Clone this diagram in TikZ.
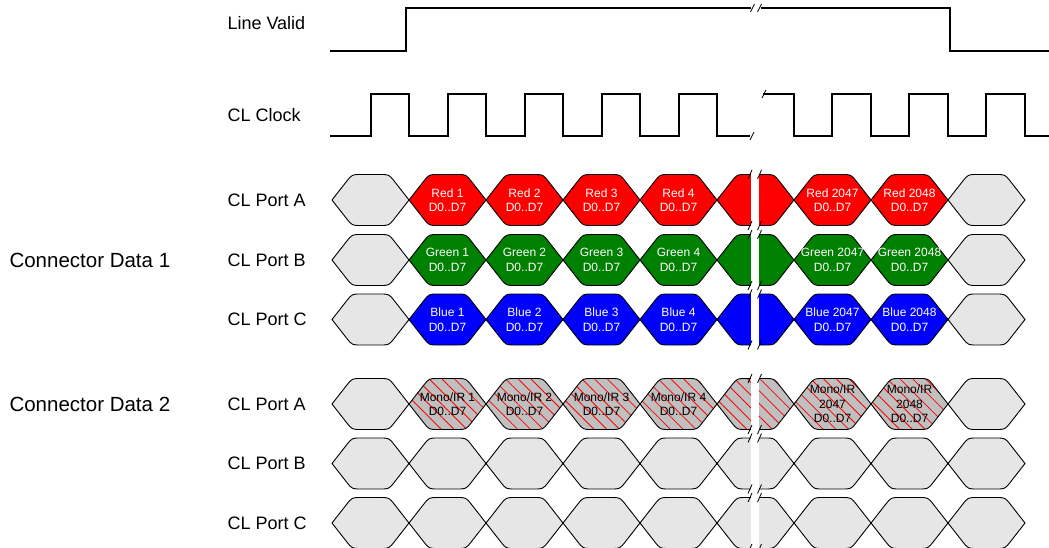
\documentclass[tikz,border=0pt]{standalone}
\usepackage{fontspec}
\setmainfont{Liberation Sans}
\usetikzlibrary{patterns.meta}
\definecolor{cellgrey}{HTML}{E6E6E6}
\definecolor{hatchgrey}{HTML}{C0C0C0}
\definecolor{dgreen}{HTML}{008000}
\newcommand{\hexpath}{(0,0) -- (14.4,-18.4) .. controls (20,-25.5) .. (29,-25.5) -- (48,-25.5) .. controls (57,-25.5) .. (62.6,-18.4) -- (77,0) -- (62.6,18.4) .. controls (57,25.5) .. (48,25.5) -- (29,25.5) .. controls (20,25.5) .. (14.4,18.4) -- cycle}
\begin{document}
\begin{tikzpicture}[x=1pt,y=-1pt,
	signal/.style={line width=1.4pt},
	cell/.style={draw=black,line width=0.9pt,fill=cellgrey},
	hatch/.style={draw=black,line width=0.9pt,preaction={fill=hatchgrey},pattern={Lines[angle=-45,distance=9pt,line width=0.8pt]},pattern color=red},
	brk/.style={line width=0.8pt},
	sig/.style={anchor=west,font=\fontsize{18}{21}\selectfont},
	grp/.style={anchor=west,font=\fontsize{20.5}{24}\selectfont},
	celltext/.style={align=center,font=\fontsize{12}{14.5}\selectfont}]
	\useasboundingbox (0,0) rectangle (1049,548);
	\node[sig] (lv) at (224,23) {Line Valid};
	\node[sig] (clk) at (224,115) {CL Clock};
	\node[grp] (cd1) at (6,260) {Connector Data 1};
	\node[grp] (cd2) at (6,404) {Connector Data 2};
	\foreach \y/\p/\k in {200/A/a1,260/B/b1,319.5/C/c1,404/A/a2,463.5/B/b2,523/C/c2}
		\node[sig] (port-\k) at (224,\y) {CL Port \p};
	\draw[signal] (330,51) -- (406,51) -- (406,8) -- (751,8);
	\draw[signal] (761,8) -- (950,8) -- (950,51) -- (1049,51);
	\draw[brk] (750.5,12) -- (754.5,4);
	\draw[brk] (757.5,12) -- (761.5,4);
	\draw[signal] (330,136) \foreach \f in {409,486,563,640,717} { -- (\f-38,136) -- (\f-38,94) -- (\f,94) -- (\f,136) } -- (750,136);
	\draw[signal] (763,94) -- (794,94) -- (794,136) \foreach \f in {871,948,1025} { -- (\f-39,136) -- (\f-39,94) -- (\f,94) -- (\f,136) } -- (1049,136);
	\draw[brk] (750,140) -- (754,132);
	\draw[brk] (762,98) -- (766,90);
	\foreach \y/\fc/\lbl in {200/red/Red,260/dgreen/Green,319.5/blue/Blue} {
		\draw[cell,shift={(332,\y)}] \hexpath;
		\foreach \n in {1,2,3,4} {
			\draw[cell,fill=\fc,shift={(332+77*\n,\y)}] \hexpath;
			\node[celltext,text=white] (\lbl-\n) at (370.5+77*\n,\y) {\lbl\ \n\\D0..D7};
		}
		\draw[cell,fill=\fc,shift={(717,\y)}] \hexpath;
		\foreach \n/\x in {2047/794,2048/871} {
			\draw[cell,fill=\fc,shift={(\x,\y)}] \hexpath;
			\node[celltext,text=white] (\lbl-\n) at (\x+38.5,\y) {\lbl\ \n\\D0..D7};
		}
		\draw[cell,shift={(948,\y)}] \hexpath;
	}
	\draw[cell,shift={(332,404)}] \hexpath;
	\foreach \n in {1,2,3,4} {
		\draw[hatch,shift={(332+77*\n,404)}] \hexpath;
		\node[celltext] (mono-\n) at (370.5+77*\n,404) {Mono/IR \n\\D0..D7};
	}
	\draw[hatch,shift={(717,404)}] \hexpath;
	\foreach \n/\x in {2047/794,2048/871} {
		\draw[hatch,shift={(\x,404)}] \hexpath;
		\node[celltext] (mono-\n) at (\x+38.5,404) {Mono/IR\\\n\\D0..D7};
	}
	\draw[cell,shift={(948,404)}] \hexpath;
	\foreach \y in {463.5,523}
		\foreach \x in {332,409,...,948}
			\draw[cell,shift={(\x,\y)}] \hexpath;
	\fill[white] (751,170) rectangle (759,548);
	\foreach \y in {200,260,319.5,404,463.5,523}
		\foreach \sx in {750,759.5}
			\foreach \e in {-25.5,25.5}
				\draw[brk] (\sx-2,\y+\e+4.5) -- (\sx+2,\y+\e-4.5);
\end{tikzpicture}
\end{document}
